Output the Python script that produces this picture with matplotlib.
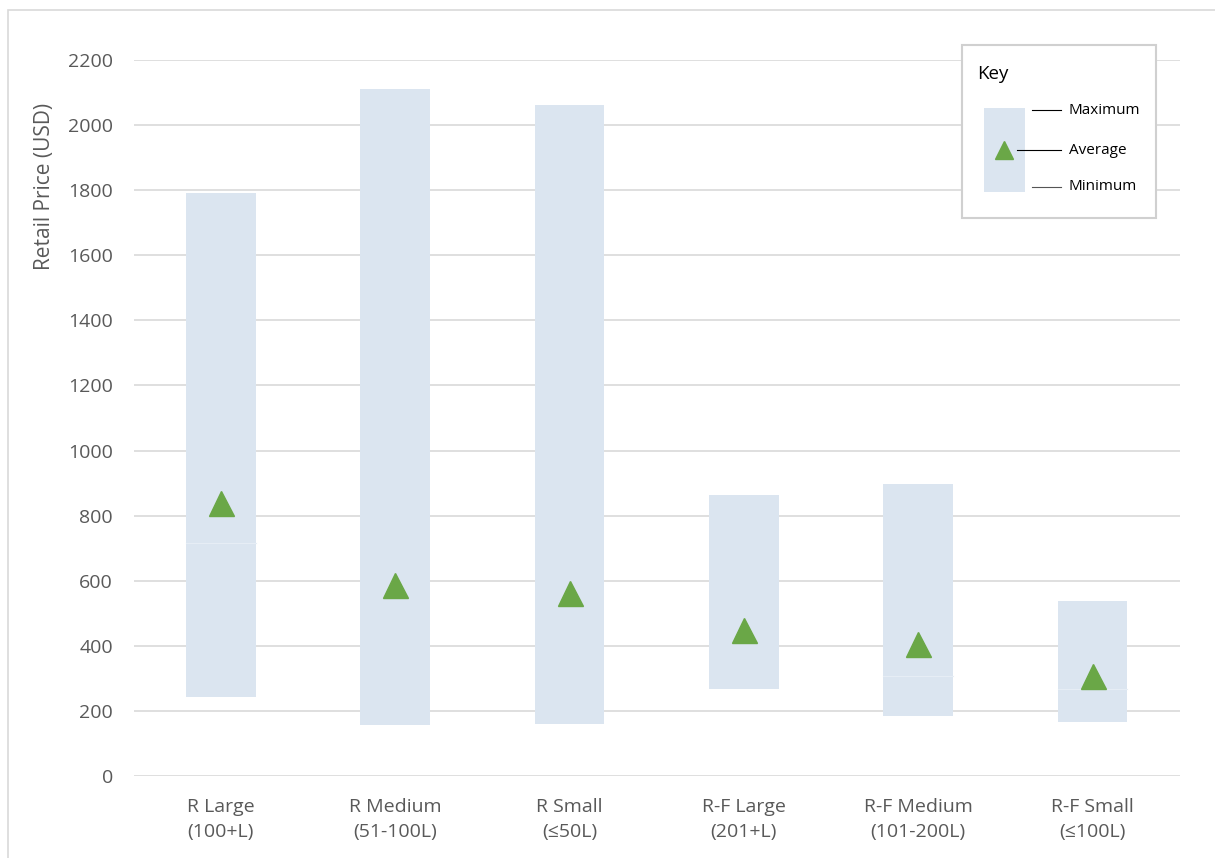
import matplotlib.pyplot as plt
from matplotlib.patches import Rectangle

plt.rcParams['font.family'] = ['Open Sans', 'DejaVu Sans']

categories = ['R Large\n(100+L)', 'R Medium\n(51-100L)', 'R Small\n(≤50L)',
              'R-F Large\n(201+L)', 'R-F Medium\n(101-200L)', 'R-F Small\n(≤100L)']
price_min = [243, 157, 160, 266, 184, 166]
price_max = [1791, 2110, 2061, 862, 897, 538]
price_avg = [840, 587, 562, 447, 404, 306]
# faint seam visible inside some bars (stacked segments in the original)
price_split = [716, None, None, None, 307, 268]

yticks = list(range(0, 2201, 200))

BAR = '#dbe5f0'
GREEN = '#6aa747'
GRID = '#d9d9d9'
TXT = '#595959'

fig = plt.figure(figsize=(12.15, 8.58), dpi=100)
ax = fig.add_axes([0.110, 0.0956, 0.861, 0.8345])

x = list(range(len(categories)))
heights = [hi - lo for lo, hi in zip(price_min, price_max)]
ax.bar(x, heights, bottom=price_min, width=0.40, color=BAR, zorder=2)
for i, s in enumerate(price_split):
    if s is not None:
        ax.plot([i - 0.2, i + 0.2], [s, s], color='#e6edf5', lw=0.8, zorder=3)
ax.plot(x, price_avg, linestyle='none', marker='^', markersize=18,
        color=GREEN, zorder=4)

ax.set_xlim(-0.5, len(categories) - 0.5)
ax.set_ylim(0, 2200)
ax.set_yticks(yticks)
ax.set_xticks(x)
ax.set_xticklabels(categories, fontsize=14, color=TXT, linespacing=1.52)
ax.tick_params(axis='y', labelsize=14, labelcolor=TXT, length=0, pad=15)
ax.tick_params(axis='x', length=0, pad=16)
ax.grid(axis='y', color=GRID, lw=1.2, zorder=0)
ax.set_axisbelow(True)
for side in ['top', 'right', 'left', 'bottom']:
    ax.spines[side].set_visible(False)
ax.set_ylabel('Retail Price (USD)', fontsize=15, color=TXT)
ax.yaxis.set_label_coords(-0.075, 0.823)

# outer chart border
fig.patches.append(Rectangle((8 / 1215, -0.01), 1.1, (848 / 858) + 0.01,
                             transform=fig.transFigure, fill=False,
                             edgecolor='#d9d9d9', lw=1.2))

# key box, drawn by hand in pixel space
W, H = 1215, 858
kax = fig.add_axes([0, 0, 1, 1], facecolor='none')
kax.set_xlim(0, W)
kax.set_ylim(H, 0)
kax.axis('off')
kax.add_patch(Rectangle((962, 45), 194, 173, facecolor='white',
                        edgecolor='#d0d0d0', lw=1.5))
kax.text(977, 74, 'Key', fontsize=13.5, color='black', va='center')
kax.add_patch(Rectangle((984, 108), 41, 84, facecolor=BAR, edgecolor='none'))
kax.plot([1004], [150], marker='^', markersize=13, color=GREEN)
kax.plot([1032, 1061], [110, 110], color='black', lw=0.8)
kax.plot([1017, 1061], [150, 150], color='black', lw=0.8)
kax.plot([1032, 1061], [187, 187], color='#555555', lw=0.8)
for yy, lab in [(110, 'Maximum'), (150, 'Average'), (187, 'Minimum')]:
    kax.text(1069, yy, lab, fontsize=11, color='black', va='center')

fig.savefig('out.png', dpi=100)
